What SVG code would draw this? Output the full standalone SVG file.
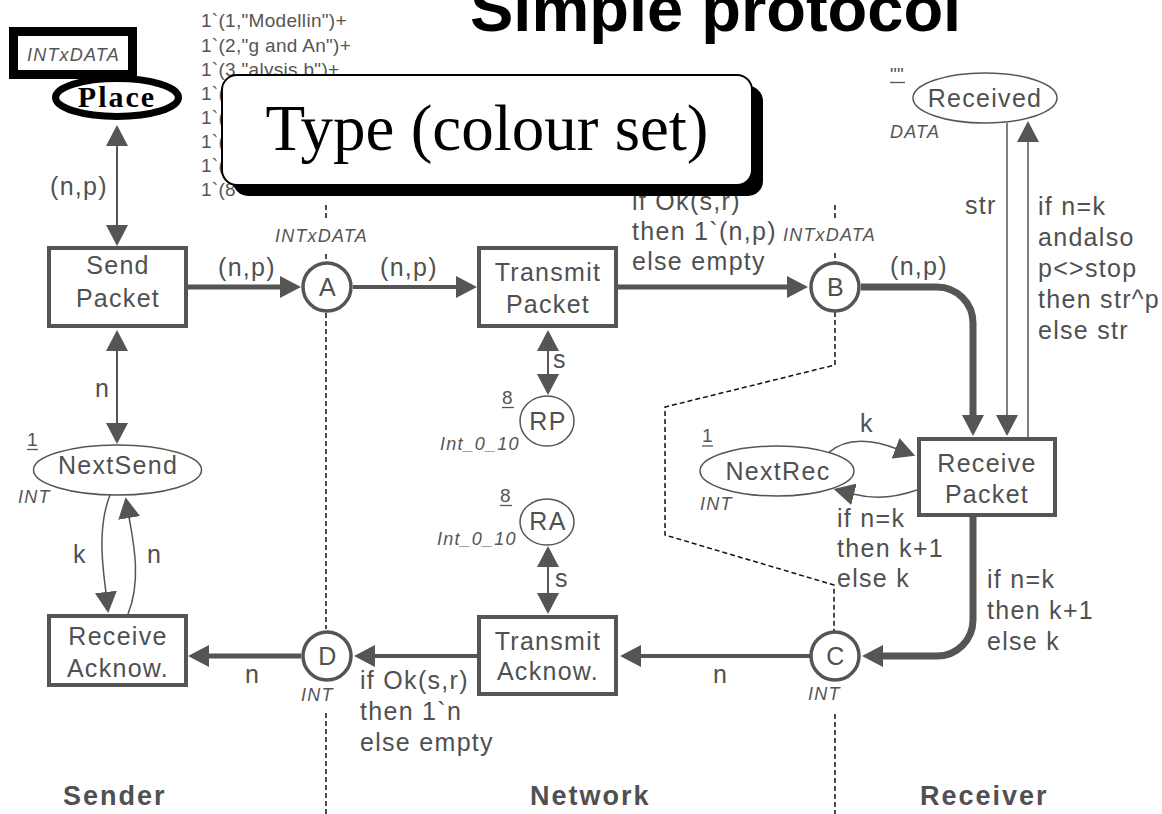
<svg xmlns="http://www.w3.org/2000/svg" width="1162" height="814" viewBox="0 0 1162 814">
<style>
.l{font-family:"Liberation Sans",Arial,sans-serif;font-size:25px;fill:#505050;letter-spacing:1.3px}
.m{text-anchor:middle}
.t{font-family:"Liberation Sans",Arial,sans-serif;font-size:18px;font-style:italic;fill:#555;letter-spacing:1.2px}
.k{font-family:"Liberation Sans",Arial,sans-serif;font-size:19px;fill:#555;letter-spacing:0.3px}
.s{font-family:"Liberation Sans",Arial,sans-serif;font-size:27px;font-weight:bold;fill:#505050;letter-spacing:2px}
.box{fill:#fff;stroke:#555;stroke-width:4}
.pl{fill:#fff;stroke:#555;stroke-width:3.5}
.th{fill:#fff;stroke:#555;stroke-width:1.5}
.c{fill:none;stroke:#555}
.d{fill:none;stroke:#111;stroke-width:1.5;stroke-dasharray:5 3}
.u{stroke:#555;stroke-width:1.3}
</style>
<defs>
<marker id="ah" markerUnits="userSpaceOnUse" markerWidth="22" markerHeight="22" refX="1" refY="11" orient="auto-start-reverse"><path d="M0,0 L21,11 L0,22 z" fill="#555"/></marker>
</defs>
<rect width="1162" height="814" fill="#fff"/>

<g id="title"><text x="470" y="31" font-family="Liberation Sans,Arial,sans-serif" font-size="65" font-weight="bold" fill="#000">Simple protocol</text></g>

<g id="init-marking" class="k">
<text x="201" y="27">1`(1,"Modellin")+</text>
<text x="201" y="52">1`(2,"g and An")+</text>
<text x="201" y="76">1`(3,"alysis b")+</text>
<text x="201" y="100">1`(</text>
<text x="201" y="124">1`(</text>
<text x="201" y="148">1`(</text>
<text x="201" y="172">1`(</text>
<text x="201" y="196">1`(8</text>
</g>

<g id="dividers">
<path class="d" d="M326 205V221M326 254V262M326 313V629M326 713V814"/>
<path class="d" d="M835 205V221M835 253V262M835 312V365L665 407V535L834 585V631M835 714V814"/>
</g>

<g id="connectors" class="c">
<path d="M117 145V226" stroke-width="2" marker-start="url(#ah)" marker-end="url(#ah)"/>
<path d="M186 287H281" stroke-width="5" marker-end="url(#ah)"/>
<path d="M353 287H457" stroke-width="4" marker-end="url(#ah)"/>
<path d="M618 287H788" stroke-width="5" marker-end="url(#ah)"/>
<path d="M548 350V375" stroke-width="2" marker-start="url(#ah)" marker-end="url(#ah)"/>
<path d="M861 287H937A36 36 0 0 1 973 323V416" stroke-width="7" marker-end="url(#ah)"/>
<path d="M1007 123V416" stroke-width="1.5" marker-end="url(#ah)"/>
<path d="M1028 437V141" stroke-width="1.5" marker-end="url(#ah)"/>
<path d="M828 453C845 438 868 438 896.5 448.7" stroke-width="1.5" marker-end="url(#ah)"/>
<path d="M917 490C900 496 876 500 853 494" stroke-width="1.5" marker-end="url(#ah)"/>
<path d="M973 517V620A36 36 0 0 1 937 656H882" stroke-width="7" marker-end="url(#ah)"/>
<path d="M810 656H640" stroke-width="4" marker-end="url(#ah)"/>
<path d="M477 656H374" stroke-width="4" marker-end="url(#ah)"/>
<path d="M301 656H208" stroke-width="5" marker-end="url(#ah)"/>
<path d="M548 566V594" stroke-width="2" marker-start="url(#ah)" marker-end="url(#ah)"/>
<path d="M117 350V424" stroke-width="2" marker-start="url(#ah)" marker-end="url(#ah)"/>
<path d="M110 495C96 530 104 575 106 593" stroke-width="1.5" marker-end="url(#ah)"/>
<path d="M128 614C142 580 133 540 129 517" stroke-width="1.5" marker-end="url(#ah)"/>
</g>

<g id="arc-labels" class="l">
<text x="50" y="195">(n,p)</text>
<text x="95" y="397">n</text>
<text x="218" y="276">(n,p)</text>
<text x="380" y="276">(n,p)</text>
<text x="632" y="210">if Ok(s,r)</text>
<text x="632" y="240">then 1`(n,p)</text>
<text x="632" y="270">else empty</text>
<text x="890" y="275">(n,p)</text>
<text x="553" y="368">s</text>
<text x="555" y="587">s</text>
<text x="965" y="214">str</text>
<text x="1038" y="215">if n=k</text>
<text x="1038" y="246">andalso</text>
<text x="1038" y="277">p&lt;&gt;stop</text>
<text x="1038" y="308">then str^p</text>
<text x="1038" y="339">else str</text>
<text x="860" y="432">k</text>
<text x="837" y="527">if n=k</text>
<text x="837" y="557">then k+1</text>
<text x="837" y="587">else k</text>
<text x="987" y="588">if n=k</text>
<text x="987" y="619">then k+1</text>
<text x="987" y="650">else k</text>
<text x="713" y="683">n</text>
<text x="360" y="689">if Ok(s,r)</text>
<text x="360" y="720">then 1`n</text>
<text x="360" y="751">else empty</text>
<text x="245" y="683">n</text>
<text x="73" y="563">k</text>
<text x="147" y="563">n</text>
</g>

<g id="send-packet"><rect class="box" x="49" y="248" width="137" height="78"/><text class="l m" x="118" y="274">Send</text><text class="l m" x="118" y="307">Packet</text></g>
<g id="transmit-packet"><rect class="box" x="479" y="248" width="137" height="78" stroke="#666"/><text class="l m" x="548" y="281">Transmit</text><text class="l m" x="548" y="313">Packet</text></g>
<g id="receive-packet"><rect class="box" x="919" y="439" width="136" height="76"/><text class="l m" x="987" y="472">Receive</text><text class="l m" x="987" y="503">Packet</text></g>
<g id="transmit-ack"><rect class="box" x="479" y="617" width="137" height="77"/><text class="l m" x="548" y="650">Transmit</text><text class="l m" x="548" y="680">Acknow.</text></g>
<g id="receive-ack"><rect class="box" x="49" y="616" width="137" height="69"/><text class="l m" x="118" y="645">Receive</text><text class="l m" x="118" y="677">Acknow.</text></g>

<g id="place-A"><circle class="pl" cx="327" cy="287" r="24"/><text class="l m" x="328" y="296">A</text><text class="t" x="275" y="242">INTxDATA</text></g>
<g id="place-B"><circle class="pl" cx="835" cy="287" r="24"/><text class="l m" x="836" y="296">B</text><text class="t" x="783" y="241">INTxDATA</text></g>
<g id="place-C"><circle class="pl" cx="835" cy="656" r="24"/><text class="l m" x="836" y="665">C</text><text class="t" x="808" y="700">INT</text></g>
<g id="place-D"><circle class="pl" cx="327" cy="656" r="24"/><text class="l m" x="328" y="665">D</text><text class="t" x="301" y="701">INT</text></g>
<g id="place-RP"><ellipse class="th" cx="547" cy="421" rx="27" ry="25"/><text class="l m" x="548" y="430">RP</text><text class="k" x="502" y="404">8</text><line class="u" x1="502" y1="407.5" x2="514" y2="407.5"/><text class="t" x="440" y="450">Int_0_10</text></g>
<g id="place-RA"><ellipse class="th" cx="547" cy="522" rx="27" ry="23"/><text class="l m" x="548" y="530">RA</text><text class="k" x="500" y="502">8</text><line class="u" x1="500" y1="505.5" x2="512" y2="505.5"/><text class="t" x="437" y="545">Int_0_10</text></g>
<g id="place-NextSend"><ellipse class="th" cx="117.5" cy="470" rx="84" ry="25"/><text class="l m" x="118" y="474">NextSend</text><text class="k" x="27" y="446">1</text><line class="u" x1="27" y1="449.5" x2="38" y2="449.5"/><text class="t" x="18" y="503">INT</text></g>
<g id="place-NextRec"><ellipse class="th" cx="777" cy="471" rx="77" ry="25"/><text class="l m" x="778" y="480">NextRec</text><text class="k" x="702" y="442">1</text><line class="u" x1="702" y1="446" x2="713" y2="446"/><text class="t" x="700" y="510">INT</text></g>
<g id="place-Received"><ellipse class="th" cx="985" cy="98" rx="72" ry="25"/><text class="l m" x="985" y="107">Received</text><text class="k" x="890" y="81">""</text><line class="u" x1="890" y1="82.5" x2="905" y2="82.5"/><text class="t" x="890" y="138">DATA</text></g>

<g id="sections" class="s">
<text x="63" y="805">Sender</text>
<text x="530" y="805">Network</text>
<text x="920" y="805">Receiver</text>
</g>

<g id="type-callout">
<rect x="233" y="86" width="530" height="110" rx="15" fill="#000"/>
<rect x="222" y="75" width="530" height="110" rx="15" fill="#fff" stroke="#000" stroke-width="2"/>
<text x="487" y="150" text-anchor="middle" font-family="Liberation Serif,Times New Roman,serif" font-size="65" fill="#000">Type (colour set)</text>
</g>

<g id="place-callout">
<rect x="13.5" y="31.5" width="119" height="43" fill="#fff" stroke="#000" stroke-width="9"/>
<text class="t" x="27" y="61">INTxDATA</text>
<ellipse cx="117" cy="97.5" rx="61.5" ry="19" fill="#fff" stroke="#000" stroke-width="7"/>
<text x="117" y="107" text-anchor="middle" font-family="Liberation Serif,Times New Roman,serif" font-size="30" font-weight="bold" letter-spacing="2" fill="#000">Place</text>
</g>
</svg>
